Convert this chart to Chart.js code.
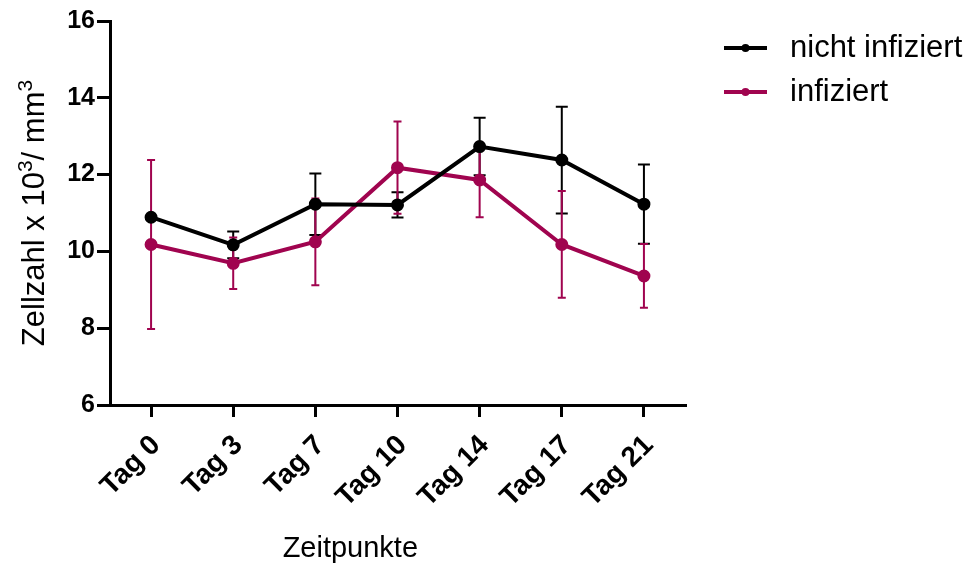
<!DOCTYPE html>
<html>
<head>
<meta charset="utf-8">
<script src="https://cdn.jsdelivr.net/npm/chart.js@4.4.1/dist/chart.umd.min.js"></script>
<style>
  html, body { margin: 0; padding: 0; background: #fff; }
  #wrap { width: 971px; height: 567px; }
</style>
</head>
<body>
<div id="wrap"><canvas id="chart" width="971" height="567"></canvas></div>
<script>
const labels = ['Tag 0', 'Tag 3', 'Tag 7', 'Tag 10', 'Tag 14', 'Tag 17', 'Tag 21'];
const nichtInfiziert = [10.89, 10.17, 11.23, 11.21, 12.73, 12.38, 11.23];
const nichtInfiziertSD = [0, 0.35, 0.8, 0.33, 0.75, 1.39, 1.03];
const infiziert = [10.18, 9.69, 10.25, 12.18, 11.86, 10.18, 9.36];
const infiziertSD = [2.2, 0.67, 1.13, 1.2, 0.97, 1.39, 0.83];
const yTicks = [6, 8, 10, 12, 14, 16];

const MAGENTA = '#a0044f';
const FONT = "'Liberation Sans', Arial, sans-serif";

// error bars, drawn before the lines
const errorBars = {
  id: 'errorBars',
  beforeDatasetsDraw(chart) {
    const ctx = chart.ctx;
    const y = chart.scales.y;
    chart.data.datasets.forEach((ds, i) => {
      const meta = chart.getDatasetMeta(i);
      ctx.save();
      ctx.strokeStyle = ds.borderColor;
      ctx.lineWidth = 2;
      meta.data.forEach((pt, j) => {
        const sd = ds.sd[j];
        if (!sd) return;
        const top = y.getPixelForValue(ds.data[j] + sd);
        const bot = y.getPixelForValue(ds.data[j] - sd);
        const w = ds.capHalf;
        ctx.beginPath();
        ctx.moveTo(pt.x, top); ctx.lineTo(pt.x, bot);
        ctx.moveTo(pt.x - w, top); ctx.lineTo(pt.x + w, top);
        ctx.moveTo(pt.x - w, bot); ctx.lineTo(pt.x + w, bot);
        ctx.stroke();
      });
      ctx.restore();
    });
  }
};

// axis titles and legend
const decorations = {
  id: 'decorations',
  afterDraw(chart) {
    const ctx = chart.ctx;
    const a = chart.chartArea;
    ctx.save();
    ctx.fillStyle = '#000';

    // y title with superscripts
    const parts = [['Zellzahl x 10', 31, 0], ['3', 21, -12], ['/ mm', 31, 0], ['3', 21, -12]];
    let total = 0;
    parts.forEach(p => { ctx.font = p[1] + 'px ' + FONT; total += ctx.measureText(p[0]).width; });
    ctx.translate(44, (a.top + a.bottom) / 2);
    ctx.rotate(-Math.PI / 2);
    ctx.textBaseline = 'alphabetic';
    ctx.textAlign = 'left';
    let x = -total / 2;
    parts.forEach(p => {
      ctx.font = p[1] + 'px ' + FONT;
      ctx.fillText(p[0], x, p[2]);
      x += ctx.measureText(p[0]).width;
    });
    ctx.setTransform(1, 0, 0, 1, 0, 0);

    // x title
    ctx.font = '29px ' + FONT;
    ctx.textAlign = 'center';
    ctx.textBaseline = 'middle';
    ctx.fillText('Zeitpunkte', a.left + (a.right - a.left) * 0.418, 549);

    // legend
    chart.data.datasets.forEach((ds, i) => {
      const ly = 48 + i * 44;
      ctx.strokeStyle = ds.borderColor;
      ctx.lineWidth = 4;
      ctx.beginPath();
      ctx.moveTo(724, ly); ctx.lineTo(767, ly);
      ctx.stroke();
      ctx.fillStyle = ds.borderColor;
      ctx.beginPath();
      ctx.arc(745.5, ly, 4, 0, Math.PI * 2);
      ctx.fill();
      ctx.fillStyle = '#000';
      ctx.font = '31px ' + FONT;
      ctx.textAlign = 'left';
      ctx.textBaseline = 'middle';
      ctx.fillText(ds.label, 790, ly);
    });
    ctx.restore();
  }
};

new Chart(document.getElementById('chart'), {
  type: 'line',
  data: {
    labels: labels,
    datasets: [
      {
        label: 'nicht infiziert',
        data: nichtInfiziert,
        sd: nichtInfiziertSD,
        capHalf: 6,
        borderColor: '#000',
        backgroundColor: '#000',
        borderWidth: 4,
        pointRadius: 4.5,
        pointHoverRadius: 4.5,
        tension: 0
      },
      {
        label: 'infiziert',
        data: infiziert,
        sd: infiziertSD,
        capHalf: 4,
        borderColor: MAGENTA,
        backgroundColor: MAGENTA,
        borderWidth: 4,
        pointRadius: 4.5,
        pointHoverRadius: 4.5,
        tension: 0
      }
    ]
  },
  options: {
    responsive: false,
    animation: false,
    layout: { padding: { left: 0, right: 286, top: 21, bottom: 0 } },
    plugins: { legend: { display: false }, tooltip: { enabled: false } },
    scales: {
      x: {
        offset: true,
        afterFit(s) { s.height = 162; },
        grid: { drawOnChartArea: false, drawTicks: true, tickLength: 12, color: '#000', lineWidth: 3, offset: false },
        border: { color: '#000', width: 3 },
        ticks: {
          color: '#000',
          font: { family: FONT, size: 28, weight: 'bold' },
          minRotation: 45,
          maxRotation: 45,
          padding: 12,
          labelOffset: 5
        }
      },
      y: {
        min: 6,
        max: 16,
        afterFit(s) { s.width = 110; },
        afterBuildTicks(s) { s.ticks = yTicks.map(v => ({ value: v })); },
        grid: { drawOnChartArea: false, drawTicks: true, tickLength: 13, color: '#000', lineWidth: 3 },
        border: { color: '#000', width: 3 },
        ticks: {
          color: '#000',
          font: { family: FONT, size: 25, weight: 'bold' },
          padding: 2
        }
      }
    }
  },
  plugins: [errorBars, decorations]
});
</script>
</body>
</html>
